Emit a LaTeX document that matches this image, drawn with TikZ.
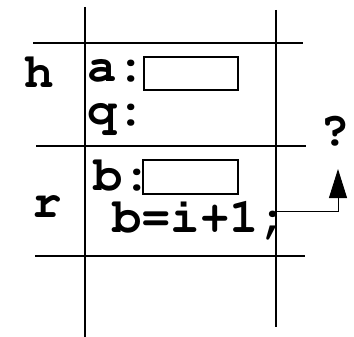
\documentclass[tikz,border=0pt]{standalone}
\usepackage[T1]{fontenc}
\usetikzlibrary{arrows.meta}
\begin{document}
\begin{tikzpicture}[x=1pt,y=-1pt,
  grid/.style={line width=1.8pt},
  lbl/.style={inner sep=0pt,anchor=base west,font=\fontencoding{T1}\fontfamily{pcr}\fontseries{b}\fontsize{49}{49}\selectfont},
  slot/.style={draw,line width=1.6pt,inner sep=0pt,anchor=north west},
  conn/.style={line width=0.9pt,-{Triangle[length=29pt,width=18pt]}}]
\useasboundingbox (0,0) rectangle (354,337);
% grid lines
\coordinate (v1t) at (85,7);   \coordinate (v1b) at (85,337);
\coordinate (v2t) at (276,10); \coordinate (v2b) at (276,327);
\coordinate (h1l) at (33,43);  \coordinate (h1r) at (303,43);
\coordinate (h2l) at (36,146); \coordinate (h2r) at (306,146);
\coordinate (h3l) at (35,256); \coordinate (h3r) at (305,256);
\draw[grid] (v1t) -- (v1b);
\draw[grid] (v2t) -- (v2b);
\draw[grid] (h1l) -- (h1r);
\draw[grid] (h2l) -- (h2r);
\draw[grid] (h3l) -- (h3r);
% labels
\node[lbl] (h) at (24,88) {h};
\node[lbl] (r) at (32,217) {r};
\node[lbl] (a) at (87,82) {a:};
\node[lbl] (q) at (87,125) {q:};
\node[lbl] (b) at (93,190) {b:};
\node[lbl] (stmt) at (112,233) {b=i+1;};
\node[lbl] (qm) at (320,146) {?};
% slots
\node[slot,minimum width=94pt,minimum height=33pt] (abox) at (143,56) {};
\node[slot,minimum width=95pt,minimum height=34pt] (bbox) at (142,159) {};
% connector
\coordinate (src) at (277,211);
\coordinate (tip) at (338,169);
\draw[conn] (src) -| (tip);
\end{tikzpicture}
\end{document}
